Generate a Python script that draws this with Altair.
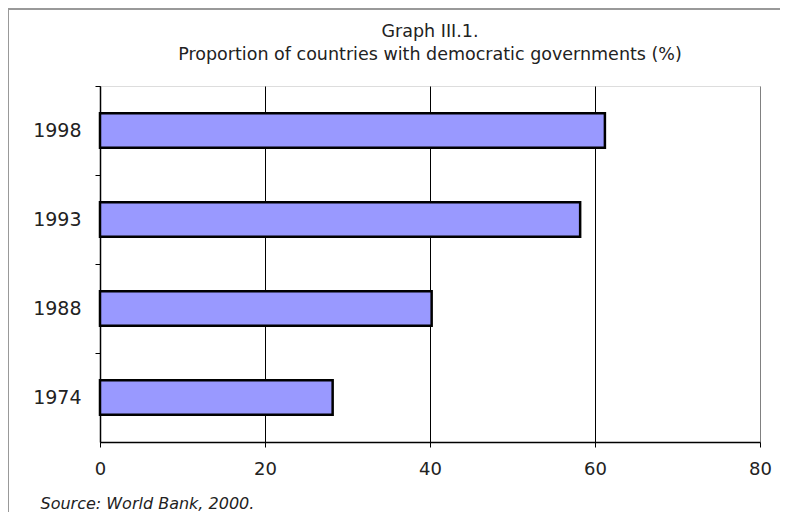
import altair as alt
import pandas as pd

years = ["1998", "1993", "1988", "1974"]
shares = [61.2, 58.2, 40.2, 28.2]
x_ticks = [0, 20, 40, 60, 80]
title_lines = ["Graph III.1.", "Proportion of countries with democratic governments (%)"]

df = pd.DataFrame({"year": years, "share": shares})
one = pd.DataFrame({"k": [0]})
FONT = "DejaVu Sans"

bars = alt.Chart(df).mark_bar(
    color="#9999FF", stroke="black", strokeWidth=2.5,
    height=alt.RelativeBandSize(band=0.39)
).encode(
    x=alt.X("share:Q", scale=alt.Scale(domain=[0, 80], nice=False),
            axis=alt.Axis(values=x_ticks, title="Source: World Bank, 2000.",
                          titleFontStyle="italic", titleFontWeight="normal",
                          titleFont=FONT, titleFontSize=16, titleColor="#222",
                          titleAnchor="start", titleAlign="left", titleX=-60, titleY=61,
                          titleBaseline="middle",
                          grid=True,
                          gridColor=alt.condition("datum.value == 80", alt.value("#808080"), alt.value("black")),
                          gridWidth=1, labelFlush=False,
                          domainColor="black", domainWidth=1.5,
                          tickColor="black", tickSize=5, labelPadding=13,
                          labelFont=FONT, labelFontSize=18, labelColor="#222")),
    y=alt.Y("year:N", sort=years, scale=alt.Scale(paddingInner=0, paddingOuter=0),
            axis=alt.Axis(title=None, bandPosition=0, domainColor="black", domainWidth=1.5,
                          tickColor="black", tickSize=5, labelPadding=14,
                          labelFont=FONT, labelFontSize=19, labelColor="#222")),
)

title1 = alt.Chart(one).mark_text(
    text=title_lines[0], font=FONT, fontSize=17.5, fontWeight="normal", color="#222",
    align="center", baseline="middle"
).encode(x=alt.value(330), y=alt.value(-54))
title2 = alt.Chart(one).mark_text(
    text=title_lines[1], font=FONT, fontSize=17.5, fontWeight="normal", color="#222",
    align="center", baseline="middle"
).encode(x=alt.value(330), y=alt.value(-31))

frame_top = alt.Chart(one).mark_rule(color="#999999", strokeWidth=2).encode(
    x=alt.value(-92), x2=alt.value(680), y=alt.value(-77))
frame_left = alt.Chart(one).mark_rule(color="#999999", strokeWidth=2).encode(
    x=alt.value(-92), y=alt.value(-77), y2=alt.value(430))

chart = alt.layer(frame_top, frame_left, title1, title2, bars).properties(
    width=660, height=356,
    autosize=alt.AutoSizeParams(type="none"),
    padding={"left": 92, "top": 78, "right": 20, "bottom": 70},
).configure_view(stroke="#808080", strokeWidth=3).configure(background="white")

chart.save("out.html", embed_options={"renderer": "svg", "actions": False})
